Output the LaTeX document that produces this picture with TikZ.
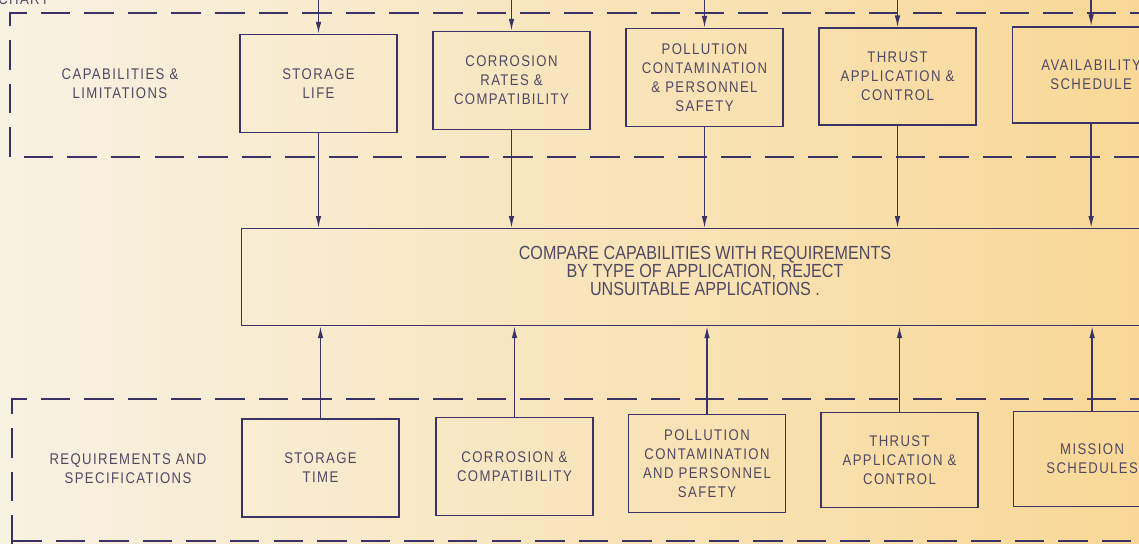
\documentclass[tikz,border=0pt]{standalone}
\usepackage{fontspec}
\setmainfont{Liberation Sans}[FakeStretch=0.85, LetterSpace=9]
\newfontfamily\typed{Liberation Sans}[FakeStretch=0.85]
\usetikzlibrary{arrows.meta}

\definecolor{ink}{HTML}{3B3266}
\definecolor{lettering}{HTML}{4F4962}
\definecolor{paperleft}{HTML}{F8F2E3}
\definecolor{papermid}{HTML}{FAEBC8}
\definecolor{paperright}{HTML}{F9D897}

\tikzset{
    block/.style={draw=ink, line width=1pt, minimum width=3.92cm, minimum height=2.45cm,
        align=center, text=lettering, font=\fontsize{11}{13.5}\selectfont},
    tag/.style={align=center, text=lettering, font=\fontsize{11}{13.5}\selectfont},
    flow/.style={draw=ink, line width=1pt, -{Latex[length=8.5pt, width=4pt]}},
    region/.style={draw=ink, line width=1pt, dash pattern=on 21pt off 10pt}
}

\begin{document}
\begin{tikzpicture}[x=0.025cm, y=-0.025cm]
    \useasboundingbox (0,0) rectangle (1139,544);
    \clip (0,0) rectangle (1139,544);
    \shade[left color=paperleft, middle color=papermid, right color=paperright] (0,0) rectangle (1139,544);

    % cut-off heading
    \node[tag, anchor=base west, inner sep=0pt] (heading) at (-2,5) {CHART};
    \coordinate (top) at (0,-10);

    % capabilities row
    \draw[region] (1160,13) -- (10,13) -- (10,157) -- (1160,157);
    \node[tag] (caplab) at (120,84) {CAPABILITIES \&\\LIMITATIONS};
    \node[block] (slife) at (318.5,83.5) {STORAGE\\LIFE};
    \node[block] (crates) at (511.5,80.5) {CORROSION\\RATES \&\\COMPATIBILITY};
    \node[block] (pollu) at (704.5,77.5) {POLLUTION\\CONTAMINATION\\\& PERSONNEL\\SAFETY};
    \node[block, minimum height=2.42cm] (thrust) at (897.5,76.5) {THRUST\\APPLICATION \&\\CONTROL};
    \node[block, minimum height=2.4cm, anchor=west] (avail) at (1012,75) {AVAILABILITY\\SCHEDULE};

    % comparison
    \node[block, anchor=north west, minimum width=23cm, minimum height=2.42cm] (cmp) at (241,228) {};
    \node[tag, font=\typed\fontsize{13.5}{12.8}\selectfont] (cmptext) at (705,271)
        {COMPARE CAPABILITIES WITH REQUIREMENTS\\BY TYPE OF APPLICATION, REJECT\\UNSUITABLE APPLICATIONS .};

    % requirements row
    \draw[region] (1160,399) -- (12,399) -- (12,570);
    \node[tag] (reqlab) at (128,469) {REQUIREMENTS AND\\SPECIFICATIONS};
    \node[block] (stime) at (320.5,468) {STORAGE\\TIME};
    \node[block] (corr) at (514.5,466.5) {CORROSION \&\\COMPATIBILITY};
    \node[block] (pollr) at (707,463.5) {POLLUTION\\CONTAMINATION\\AND PERSONNEL\\SAFETY};
    \node[block, minimum height=2.36cm] (thrustr) at (899.5,460) {THRUST\\APPLICATION \&\\CONTROL};
    \node[block, minimum height=2.36cm, anchor=west] (mission) at (1013,459) {MISSION\\SCHEDULES};
    \draw[region] (12,541) -- (1160,541);

    % connectors
    \foreach \b in {slife, crates, pollu, thrust, avail} {
        \draw[flow] (\b.north |- top) -- (\b.north);
        \draw[flow] (\b.south) -- (\b.south |- cmp.north);
    }
    \foreach \b in {stime, corr, pollr, thrustr, mission}
        \draw[flow] (\b.north) -- (\b.north |- cmp.south);
\end{tikzpicture}
\end{document}
